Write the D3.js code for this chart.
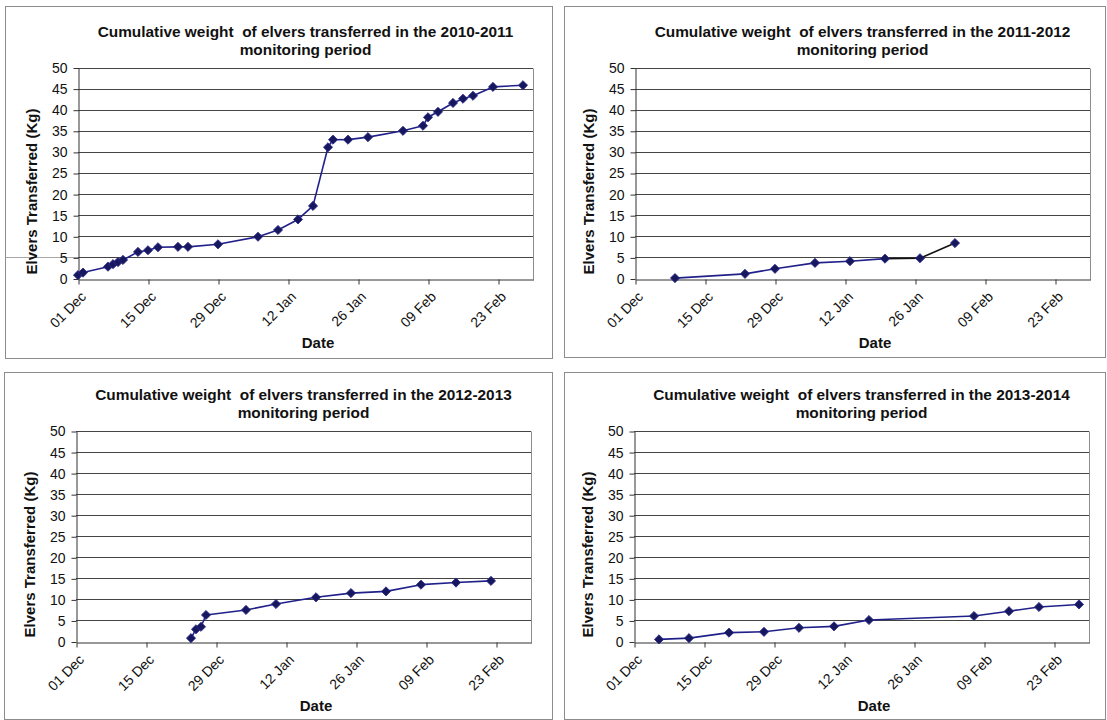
<!DOCTYPE html>
<html>
<head>
<meta charset="utf-8">
<script src="https://cdn.jsdelivr.net/npm/d3@7"></script>
<style>
  html, body { margin: 0; padding: 0; background: #fff; }
  svg { display: block; font-family: "Liberation Sans", Arial, sans-serif; }
</style>
</head>
<body>
<svg id="chart" width="1107" height="720"></svg>
<script>
// Axis ticks shared by all four seasons
const dateTickLabels = ["01 Dec", "15 Dec", "29 Dec", "12 Jan", "26 Jan", "09 Feb", "23 Feb"];
const yTickValues = [0, 5, 10, 15, 20, 25, 30, 35, 40, 45, 50];
const seasonNames = ["2010-2011", "2011-2012", "2012-2013", "2013-2014"];

// Cumulative weight (kg) of elvers transferred, per season
const dates1011 = ["2010-12-01", "2010-12-02", "2010-12-07", "2010-12-08", "2010-12-09", "2010-12-10",
  "2010-12-13", "2010-12-15", "2010-12-17", "2010-12-21", "2010-12-23", "2010-12-29",
  "2011-01-06", "2011-01-10", "2011-01-14", "2011-01-17", "2011-01-20", "2011-01-21",
  "2011-01-24", "2011-01-28", "2011-02-04", "2011-02-08", "2011-02-09", "2011-02-11",
  "2011-02-14", "2011-02-16", "2011-02-18", "2011-02-22", "2011-02-28"];
const kg1011 = [0.8, 1.4, 2.8, 3.4, 3.9, 4.4,
  6.3, 6.7, 7.4, 7.5, 7.5, 8.1,
  9.9, 11.5, 14.0, 17.2, 31.1, 32.9,
  32.9, 33.5, 35.0, 36.2, 38.2, 39.5,
  41.6, 42.6, 43.3, 45.4, 45.8];

const dates1112 = ["2011-12-09", "2011-12-23", "2011-12-29", "2012-01-06", "2012-01-13",
  "2012-01-20", "2012-01-27", "2012-02-03"];
const kg1112 = [0.1, 1.1, 2.3, 3.7, 4.1, 4.7, 4.8, 8.4];

const dates1213 = ["2012-12-24", "2012-12-25", "2012-12-26", "2012-12-27", "2013-01-04",
  "2013-01-10", "2013-01-18", "2013-01-25", "2013-02-01", "2013-02-08", "2013-02-15",
  "2013-02-22"];
const kg1213 = [0.8, 2.9, 3.5, 6.3, 7.5, 8.9, 10.5, 11.5, 11.9, 13.5, 14.0, 14.4];

const dates1314 = ["2013-12-06", "2013-12-12", "2013-12-20", "2013-12-27", "2014-01-03",
  "2014-01-10", "2014-01-17", "2014-02-07", "2014-02-14", "2014-02-20", "2014-02-28"];
const kg1314 = [0.5, 0.8, 2.1, 2.3, 3.25, 3.6, 5.1, 6.05, 7.2, 8.2, 8.8];

const seasonDates = [dates1011, dates1112, dates1213, dates1314];
const seasonKg = [kg1011, kg1112, kg1213, kg1314];
const seasonStart = ["2010-12-01", "2011-12-01", "2012-12-01", "2013-12-01"];

// Panel placement on the page
const layout = [
  { frame: [5, 6, 547, 352], plot: [78, 67.5, 533, 278.5] },
  { frame: [564, 6, 541, 351], plot: [635, 67.5, 1090, 278.5] },
  { frame: [4, 372, 548, 347], plot: [76, 431, 531, 641.5] },
  { frame: [564, 372, 541, 347], plot: [634, 431, 1089, 641.5] }
];
// Segments from this point on are drawn in black (season 2011-2012)
const blackFromPoint = [null, 5, null, null];

const parse = d3.utcParse("%Y-%m-%d");
const svg = d3.select("#chart");
const lineColor = "#20208a";
const markerColor = "#17175e";
const gridColor = "#444";

layout.forEach((p, i) => {
  const [fx, fy, fw, fh] = p.frame;
  const [left, top, right, bottom] = p.plot;
  const g = svg.append("g");

  // chart area frame
  g.append("rect")
    .attr("x", fx + 0.5).attr("y", fy + 0.5)
    .attr("width", fw).attr("height", fh)
    .attr("fill", "#fff").attr("stroke", "#8c8c8c").attr("stroke-width", 1);

  const start = parse(seasonStart[i]);
  const x = d3.scaleUtc()
    .domain([start, d3.utcDay.offset(start, 91)])
    .range([left, right]);
  const y = d3.scaleLinear().domain([0, 50]).range([bottom, top]);
  const tickDates = dateTickLabels.map((_, k) => d3.utcDay.offset(start, 14 * k));

  // stray rule across the left margin at 5 kg in the first panel
  if (i === 0) {
    g.append("line")
      .attr("x1", fx + 1).attr("x2", left)
      .attr("y1", Math.round(y(5)) + 0.5).attr("y2", Math.round(y(5)) + 0.5)
      .attr("stroke", "#a8a8a8").attr("stroke-width", 1);
  }

  // horizontal gridlines
  g.append("g").selectAll("line")
    .data(yTickValues.filter(v => v > 0))
    .join("line")
    .attr("x1", left).attr("x2", right)
    .attr("y1", d => Math.round(y(d)) + 0.5)
    .attr("y2", d => Math.round(y(d)) + 0.5)
    .attr("stroke", gridColor).attr("stroke-width", 1);

  // plot area border (right side)
  g.append("line")
    .attr("x1", Math.round(right) + 0.5).attr("x2", Math.round(right) + 0.5)
    .attr("y1", Math.round(y(50)) + 0.5).attr("y2", Math.round(y(0)) + 0.5)
    .attr("stroke", "#8c8c8c");

  // y axis
  const yAxis = g.append("g")
    .attr("transform", `translate(${Math.round(left) + 0.5},0.5)`)
    .call(d3.axisLeft(y).tickValues(yTickValues).tickSize(5).tickPadding(6).tickSizeOuter(0));
  yAxis.select(".domain").attr("stroke", "#333");
  yAxis.selectAll(".tick line").attr("stroke", "#333");
  yAxis.selectAll(".tick text")
    .attr("font-size", 14).attr("fill", "#111")
    .attr("font-family", "'Liberation Sans', Arial, sans-serif");

  // x axis
  const xAxis = g.append("g")
    .attr("transform", `translate(0.5,${Math.round(bottom) + 0.5})`)
    .call(d3.axisBottom(x).tickValues(tickDates)
      .tickFormat((d, k) => dateTickLabels[k]).tickSize(5).tickSizeOuter(0));
  xAxis.select(".domain").attr("stroke", "#333");
  xAxis.selectAll(".tick line").attr("stroke", "#333");
  xAxis.selectAll(".tick text")
    .attr("y", null).attr("dy", null)
    .attr("text-anchor", "end")
    .attr("transform", "translate(8,18) rotate(-45)")
    .attr("font-size", 14).attr("fill", "#111")
    .attr("font-family", "'Liberation Sans', Arial, sans-serif");

  // series
  const pts = seasonDates[i].map((d, k) => ({ date: parse(d), kg: seasonKg[i][k] }));
  const segLine = d3.line().x(d => x(d.date)).y(d => y(d.kg));
  g.append("g").selectAll("path")
    .data(d3.pairs(pts).map((pair, k) => ({ pair, k })))
    .join("path")
    .attr("d", d => segLine(d.pair))
    .attr("fill", "none")
    .attr("stroke", d => (blackFromPoint[i] !== null && d.k >= blackFromPoint[i]) ? "#111" : lineColor)
    .attr("stroke-width", 1.6)
    .attr("stroke-linejoin", "round");

  // square markers turned 45 degrees
  const marker = d3.symbol().type(d3.symbolSquare).size(42);
  g.append("g").selectAll("path")
    .data(pts)
    .join("path")
    .attr("d", marker)
    .attr("transform", d => `translate(${x(d.date)},${y(d.kg)}) rotate(45)`)
    .attr("fill", markerColor)
    .attr("stroke", "#2b2b8c").attr("stroke-width", 0.8);

  // titles
  const cx = (left + right) / 2;
  const title = g.append("text")
    .attr("text-anchor", "middle")
    .attr("font-weight", "bold").attr("font-size", 15.4)
    .attr("fill", "#111")
    .style("white-space", "pre");
  title.append("tspan").attr("x", cx).attr("y", top - 31)
    .text(`Cumulative weight  of elvers transferred in the ${seasonNames[i]}`);
  title.append("tspan").attr("x", cx).attr("y", top - 13)
    .text("monitoring period");

  g.append("text")
    .attr("transform", `translate(${left - 41},${bottom - 87}) rotate(-90)`)
    .attr("text-anchor", "middle")
    .attr("font-weight", "bold").attr("font-size", 15).attr("fill", "#111")
    .text("Elvers Transferred (Kg)");

  g.append("text")
    .attr("x", left + 240).attr("y", bottom + 69)
    .attr("text-anchor", "middle")
    .attr("font-weight", "bold").attr("font-size", 15).attr("fill", "#111")
    .text("Date");
});
</script>
</body>
</html>
